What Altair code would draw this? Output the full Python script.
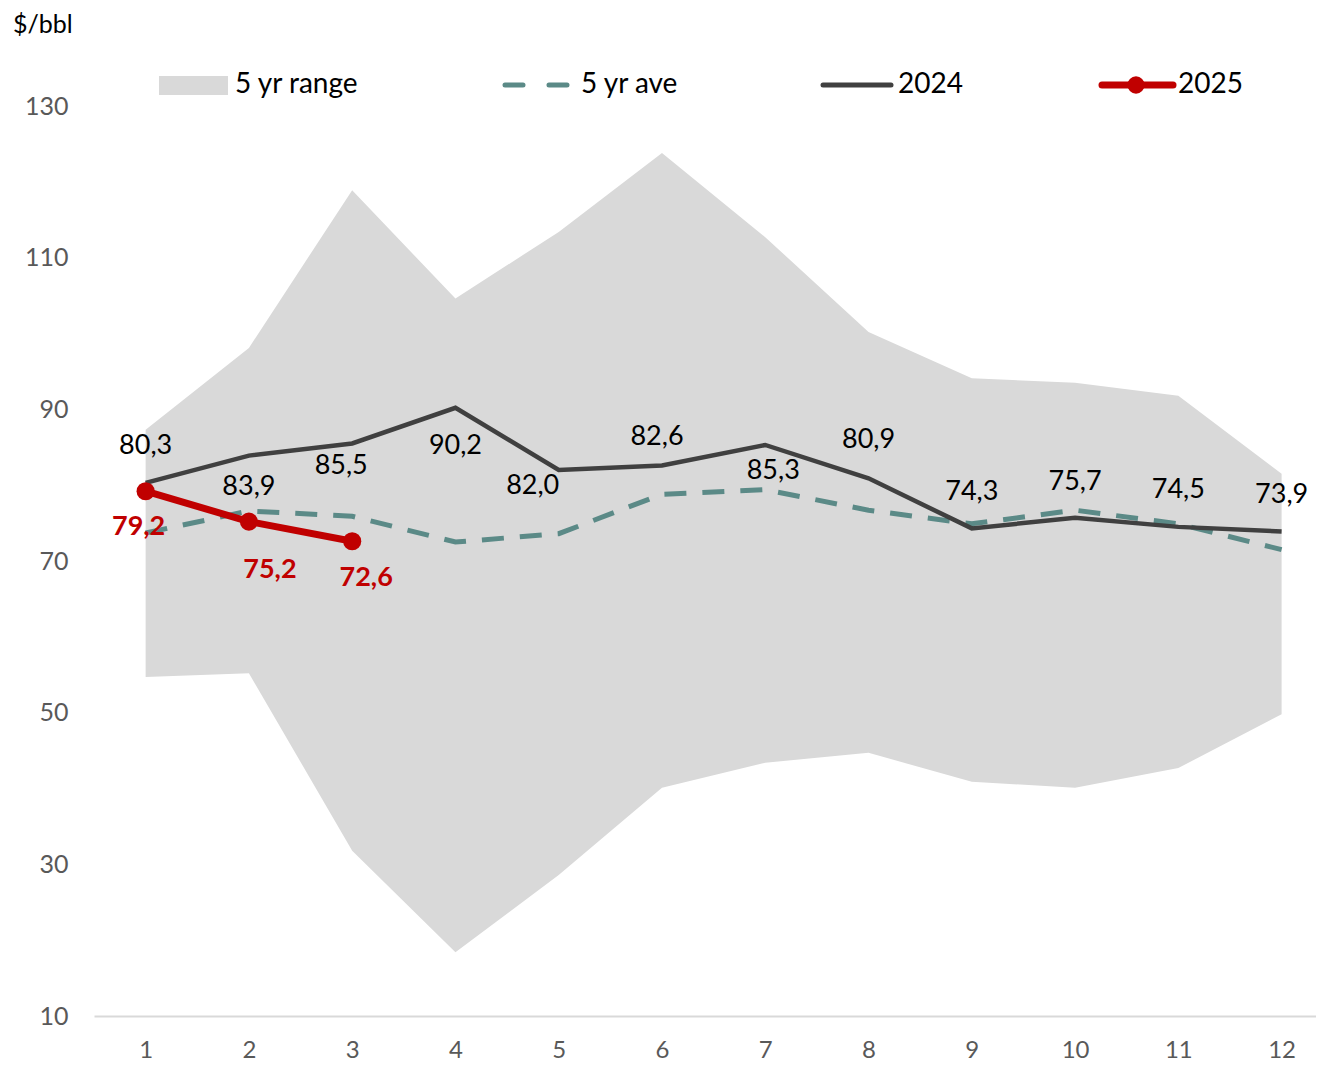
import altair as alt
import pandas as pd

months = list(range(1, 13))
range_low = [54.7, 55.2, 31.8, 18.4, 28.6, 40.1, 43.4, 44.7, 40.9, 40.1, 42.7, 49.8]
range_high = [87.3, 98.1, 118.9, 104.6, 113.4, 123.8, 112.7, 100.2, 94.1, 93.5, 91.8, 81.5]
avg5 = [73.7, 76.6, 75.9, 72.5, 73.6, 78.8, 79.4, 76.7, 74.9, 76.7, 74.9, 71.5]
y2024 = [80.3, 83.9, 85.5, 90.2, 82.0, 82.6, 85.3, 80.9, 74.3, 75.7, 74.5, 73.9]
months25 = [1, 2, 3]
y2025 = [79.2, 75.2, 72.6]

# label placement (pixel offsets from the point)
off24_x = [0, 0, -11, 0, -26, -5, 8, 0, 0, 0, 0, 0]
off24_y = [-37, 31, 23, 38, 16, -28, 26, -38, -36, -36, -37, -36]
off25_x = [-7, 21, 14]
off25_y = [36, 48, 37]

FONT = "Lato"
L, T = 94, 106          # plot area left/top in page pixels
W, H = 1222, 910
PX_X = 103.27           # pixels per month
PX_Y = H / 120.0        # pixels per $/bbl
X0, X1 = 0.5, 0.5 + W / PX_X

df = pd.DataFrame({"m": months, "lo": range_low, "hi": range_high, "avg": avg5,
                   "v24": y2024, "dx": off24_x, "dy": off24_y})
df["lab24"] = df["v24"].map(lambda v: f"{v:.1f}".replace(".", ","))
df25 = pd.DataFrame({"m": months25, "v25": y2025, "dx": off25_x, "dy": off25_y})
df25["lab25"] = df25["v25"].map(lambda v: f"{v:.1f}".replace(".", ","))

xs = alt.Scale(domain=[X0, X1], nice=False, zero=False)
ys = alt.Scale(domain=[10, 130], nice=False, zero=False)

xax = alt.Axis(values=months, format="d", labelFont=FONT, labelFontSize=24, labelColor="#595959",
               labelPadding=22, ticks=False, grid=False, domainColor="#D9D9D9", domainWidth=2,
               title=None)
yax = alt.Axis(values=[10, 30, 50, 70, 90, 110, 130], labelFont=FONT, labelFontSize=25,
               labelColor="#595959", labelPadding=26, ticks=False, grid=False, domain=False,
               title=None)

base = alt.Chart(df)

area = base.mark_area(color="#D9D9D9", opacity=1).encode(
    x=alt.X("m:Q", scale=xs, axis=xax),
    y=alt.Y("lo:Q", scale=ys, axis=yax),
    y2="hi:Q",
)
avg_line = base.mark_line(color="#5B8A87", strokeWidth=5, strokeDash=[22, 16]).encode(
    x=alt.X("m:Q", scale=xs), y=alt.Y("avg:Q", scale=ys))
line24 = base.mark_line(color="#404040", strokeWidth=4.5).encode(
    x=alt.X("m:Q", scale=xs), y=alt.Y("v24:Q", scale=ys))
lab24 = base.transform_calculate(
    lx=f"datum.m + datum.dx / {PX_X}", ly=f"datum.v24 - datum.dy / {PX_Y}"
).mark_text(font=FONT, fontSize=27, color="#000000", baseline="middle").encode(
    x=alt.X("lx:Q", scale=xs), y=alt.Y("ly:Q", scale=ys), text="lab24:N")

b25 = alt.Chart(df25)
line25 = b25.mark_line(color="#C00000", strokeWidth=7).encode(
    x=alt.X("m:Q", scale=xs), y=alt.Y("v25:Q", scale=ys))
pts25 = b25.mark_circle(color="#C00000", opacity=1, size=330).encode(
    x=alt.X("m:Q", scale=xs), y=alt.Y("v25:Q", scale=ys))
lab25 = b25.transform_calculate(
    lx=f"datum.m + datum.dx / {PX_X}", ly=f"datum.v25 - datum.dy / {PX_Y}"
).mark_text(font=FONT, fontSize=27, fontWeight="bold", color="#C00000",
            baseline="middle").encode(
    x=alt.X("lx:Q", scale=xs), y=alt.Y("ly:Q", scale=ys), text="lab25:N")

# Title and legend (pixel layout relative to plot area)
one = pd.DataFrame({"a": [0]})
c1 = alt.Chart(one)
title = c1.mark_text(text="$/bbl", font=FONT, fontSize=25, color="#000000", align="left",
                     baseline="middle").encode(x=alt.value(13 - L), y=alt.value(25 - T))

LEG_FS = 28
leg_rect = c1.mark_rect(color="#D9D9D9").encode(
    x=alt.value(159 - L), x2=alt.value(228 - L), y=alt.value(76 - T), y2=alt.value(95 - T))
leg_t1 = c1.mark_text(text="5 yr range", font=FONT, fontSize=LEG_FS, color="#000000", align="left",
                      baseline="middle").encode(x=alt.value(235 - L), y=alt.value(85 - T))
leg_avg = c1.mark_rule(color="#5B8A87", strokeWidth=5, strokeDash=[18, 26], strokeCap="round").encode(
    x=alt.value(505 - L), x2=alt.value(568 - L), y=alt.value(85 - T))
leg_t2 = c1.mark_text(text="5 yr ave", font=FONT, fontSize=LEG_FS, color="#000000", align="left",
                      baseline="middle").encode(x=alt.value(581 - L), y=alt.value(85 - T))
leg_24 = c1.mark_rule(color="#404040", strokeWidth=5, strokeCap="round").encode(
    x=alt.value(823 - L), x2=alt.value(891 - L), y=alt.value(85 - T))
leg_t3 = c1.mark_text(text="2024", font=FONT, fontSize=LEG_FS, color="#000000", align="left",
                      baseline="middle").encode(x=alt.value(898 - L), y=alt.value(85 - T))
leg_25 = c1.mark_rule(color="#C00000", strokeWidth=7, strokeCap="round").encode(
    x=alt.value(1102 - L), x2=alt.value(1173 - L), y=alt.value(85 - T))
leg_25p = c1.mark_circle(color="#C00000", opacity=1, size=300).encode(
    x=alt.value(1136 - L), y=alt.value(85 - T))
leg_t4 = c1.mark_text(text="2025", font=FONT, fontSize=LEG_FS, color="#000000", align="left",
                      baseline="middle").encode(x=alt.value(1178 - L), y=alt.value(85 - T))

chart = alt.layer(
    area, avg_line, line24, lab24, line25, pts25, lab25,
    title, leg_rect, leg_t1, leg_avg, leg_t2, leg_24, leg_t3, leg_25, leg_25p, leg_t4,
).properties(
    width=W, height=H,
    autosize=alt.AutoSizeParams(type="none"),
    padding={"left": L - 8, "top": T - 8, "right": 0, "bottom": 47},
).configure_view(stroke=None, clip=False)

chart.save("out.html", embed_options={"renderer": "svg", "actions": False})
